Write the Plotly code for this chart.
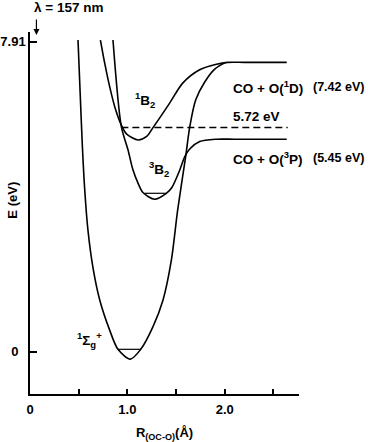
import plotly.graph_objects as go

# ---- data (R in Å, E in eV) ----
ground_R = [0.493, 0.515, 0.538, 0.562, 0.595, 0.647, 0.716, 0.818, 0.903, 1.031, 1.137,
            1.263, 1.366, 1.452, 1.516, 1.599, 1.640, 1.701, 1.794, 1.897, 2.009]
ground_E = [7.95, 6.60, 5.23, 4.13, 3.10, 2.14, 1.32, 0.55, 0.06, -0.19, 0.06,
            0.64, 1.32, 2.34, 3.61, 4.99, 5.73, 6.42, 6.88, 7.21, 7.38]

b1_R = [0.723, 0.767, 0.818, 0.870, 0.938, 0.993, 1.111, 1.198, 1.270, 1.434, 1.568,
        1.742, 1.914, 2.030, 2.200, 2.636]
b1_E = [7.95, 7.36, 6.76, 6.25, 5.78, 5.55, 5.40, 5.49, 5.74, 6.34, 6.85,
        7.19, 7.33, 7.38, 7.38, 7.38]

b3_R = [0.852, 0.938, 1.006, 1.057, 1.109, 1.160, 1.280, 1.400, 1.455, 1.537, 1.588,
        1.640, 1.742, 1.914, 2.100, 2.636]
b3_E = [7.95, 5.74, 5.15, 4.64, 4.30, 4.06, 3.89, 4.04, 4.18, 4.63, 4.97,
        5.17, 5.36, 5.42, 5.42, 5.42]

dash_R = [0.938, 2.646]
dash_E = [5.72, 5.72]

zpe_g_R = [0.903, 1.137]
zpe_g_E = [0.06, 0.06]
zpe_b3_R = [1.178, 1.400]
zpe_b3_E = [4.04, 4.04]

x_tickvals = [0, 0.5, 1.0, 1.5, 2.0, 2.5]
x_ticktext = ["0", "", "1.0", "", "2.0", ""]
y_tickvals = [0, 7.91]
y_ticktext = ["0\u00a0\u00a0", "7.91"]

XR = [0.0, 2.762]
YR = [-1.08, 8.155]

FONT = dict(family="Liberation Sans, Arial, Helvetica, sans-serif", size=13, color="black", weight="bold")
FONT_L = dict(FONT, size=13.5)
FONT_CO = dict(FONT, size=13.5)
FONT_EV = dict(FONT, size=12.5)

fig = go.Figure()
line = dict(color="black", width=1.6, shape="spline", smoothing=0.8)
for R, E in [(ground_R, ground_E), (b1_R, b1_E), (b3_R, b3_E)]:
    fig.add_trace(go.Scatter(x=R, y=E, mode="lines", line=line, hoverinfo="skip", cliponaxis=False))
for R, E in [(zpe_g_R, zpe_g_E), (zpe_b3_R, zpe_b3_E)]:
    fig.add_trace(go.Scatter(x=R, y=E, mode="lines", line=dict(color="black", width=1.2), hoverinfo="skip"))
fig.add_trace(go.Scatter(x=dash_R, y=dash_E, mode="lines",
                         line=dict(color="black", width=1.5, dash="7px,4px"), hoverinfo="skip"))


def px(R):
    return (R - XR[0]) / (XR[1] - XR[0])


def py(E):
    return (E - YR[0]) / (YR[1] - YR[0])


def label(text, R, E, xanchor="center", font=FONT_L, angle=0):
    fig.add_annotation(text=text, x=px(R), y=py(E), xref="paper", yref="paper",
                       xanchor=xanchor, yanchor="middle", showarrow=False, font=font,
                       textangle=angle)


label("λ = 157 nm", 0.392, 8.79)
fig.add_annotation(x=0.066, y=8.08, xref="x", yref="y", text="", showarrow=True,
                   ax=0, ay=-17, arrowhead=2, arrowsize=1, arrowwidth=1.2, arrowcolor="black")
label("<sup>1</sup>B<sub>2</sub>", 1.178, 6.42)
label("<sup>3</sup>B<sub>2</sub>", 1.321, 4.66)
label("5.72 eV", 2.324, 6.00)
label("CO + O(<sup>1</sup>D)", 2.068, 6.74, "left", FONT_CO)
label("(7.42 eV)", 3.455, 6.74, "right", FONT_EV)
label("CO + O(<sup>3</sup>P)", 2.068, 4.95, "left", FONT_CO)
label("(5.45 eV)", 3.455, 4.95, "right", FONT_EV)
label("<sup>1</sup>Σ<sub>g</sub><sup>+</sup>", 0.613, 0.30)
label("E (eV)", -0.178, 3.87, "center", FONT, -90)

fig.update_layout(
    width=368, height=442,
    margin=dict(l=30, r=69, t=32, b=48),
    paper_bgcolor="white", plot_bgcolor="white",
    showlegend=False, font=FONT,
    xaxis=dict(range=XR, showline=True, linecolor="black", linewidth=1.5, showgrid=False,
               zeroline=False, ticks="inside", ticklen=5, tickwidth=1.5, tickcolor="black",
               tickvals=x_tickvals, ticktext=x_ticktext, tickfont=FONT, automargin=False,
               ticklabelstandoff=3,
               title=dict(text="R<sub>(OC-O)</sub>(Å)", font=FONT, standoff=15)),
    yaxis=dict(range=YR, showline=True, linecolor="black", linewidth=1.5, showgrid=False,
               zeroline=False, ticks="inside", ticklen=7, tickwidth=1.5, tickcolor="black",
               tickvals=y_tickvals, ticktext=y_ticktext, tickfont=FONT, automargin=False),
)

fig.write_html("out.html", config={"displayModeBar": False},
               post_script="document.body.style.margin='0';")
